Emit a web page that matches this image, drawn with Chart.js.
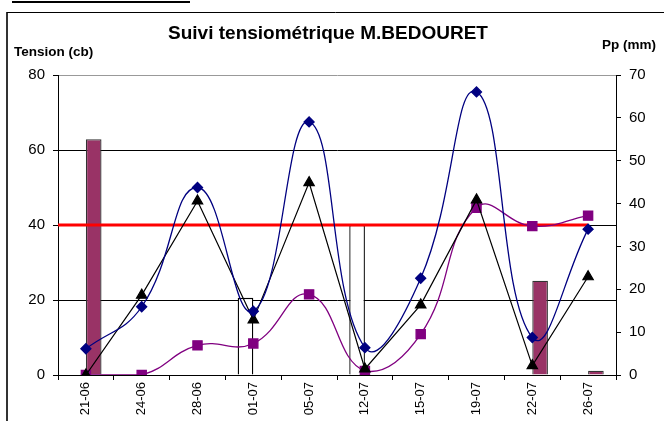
<!DOCTYPE html>
<html>
<head>
<meta charset="utf-8">
<script src="https://cdn.jsdelivr.net/npm/chart.js@4"></script>
<style>
  body { margin: 0; background: #fff; }
  canvas { display: block; }
</style>
</head>
<body>
<canvas id="chart" width="664" height="421"></canvas>
<script>
// dates des relevés
const categories = ["21-06", "24-06", "28-06", "01-07", "05-07", "12-07", "15-07", "19-07", "22-07", "26-07"];
// tensions (cb), axe gauche
const tensionBleu = [7, 18.2, 50, 17, 67.5, 7.3, 25.8, 75.5, 10, 38.9];
const tensionNoir = [0, 21.3, 46.4, 14.7, 51.3, 1.6, 18.7, 46.7, 2.5, 26.2];
const tensionViolet = [0, 0, 7.9, 8.4, 21.5, 1.1, 10.9, 44.6, 39.7, 42.5];
// apports (mm), axe droit
const irrigation = [0, 0, 0, 18, 0, 35, 0, 0, 0, 0];
const pluie = [55, 0, 0, 0, 0, 0, 0, 0, 22, 1];
// seuil de déclenchement (cb)
const seuil = 40;

const FONT = "'Liberation Sans', Arial, sans-serif";

const decor = {
  id: "decor",
  beforeDraw(chart) {
    const ctx = chart.ctx;
    ctx.save();
    ctx.fillStyle = "#fff";
    ctx.fillRect(0, 0, chart.width, chart.height);
    // cadre
    ctx.strokeStyle = "#000";
    ctx.lineWidth = 2;
    ctx.beginPath();
    ctx.moveTo(12, 2);
    ctx.lineTo(190, 2);
    ctx.stroke();
    ctx.strokeStyle = "#333";
    ctx.beginPath();
    ctx.moveTo(7, 12);
    ctx.lineTo(7, chart.height);
    ctx.stroke();
    ctx.lineWidth = 1;
    ctx.strokeStyle = "#000";
    ctx.beginPath();
    ctx.moveTo(7, 12.5);
    ctx.lineTo(chart.width, 12.5);
    ctx.stroke();
    // textes
    ctx.fillStyle = "#000";
    ctx.textBaseline = "middle";
    ctx.textAlign = "center";
    ctx.font = "bold 19px " + FONT;
    ctx.fillText("Suivi tensiométrique M.BEDOURET", 328, 34);
    ctx.font = "bold 13.5px " + FONT;
    ctx.textAlign = "left";
    ctx.fillText("Tension (cb)", 14, 52);
    ctx.fillText("Pp (mm)", 602, 45);
    ctx.restore();
  },
  afterDatasetDraw(chart, args) {
    if (args.index !== 3) return;
    const ctx = chart.ctx;
    const x = chart.scales.x;
    const y = chart.scales.y;
    const py = y.getPixelForValue(seuil);
    ctx.save();
    ctx.strokeStyle = "#ff0000";
    ctx.lineWidth = 3;
    ctx.beginPath();
    ctx.moveTo(chart.chartArea.left, py);
    ctx.lineTo(x.getPixelForValue(categories.length - 1), py);
    ctx.stroke();
    ctx.restore();
  }
};

new Chart(document.getElementById("chart"), {
  type: "bar",
  data: {
    labels: categories,
    datasets: [
      {
        type: "line",
        label: "Tension 1",
        data: tensionBleu,
        yAxisID: "y",
        borderColor: "#000080",
        backgroundColor: "#000080",
        borderWidth: 1.3,
        tension: 0.45,
        pointStyle: "rectRot",
        pointRadius: 5,
        pointBorderColor: "#000080",
        pointBackgroundColor: "#000080"
      },
      {
        type: "line",
        label: "Tension 2",
        data: tensionNoir,
        yAxisID: "y",
        borderColor: "#000",
        backgroundColor: "#000",
        borderWidth: 1.2,
        tension: 0,
        pointStyle: "triangle",
        pointRadius: 6,
        pointBorderColor: "#000",
        pointBackgroundColor: "#000"
      },
      {
        type: "line",
        label: "Tension 3",
        data: tensionViolet,
        yAxisID: "y",
        borderColor: "#800080",
        backgroundColor: "#800080",
        borderWidth: 1.3,
        tension: 0.45,
        pointStyle: "rect",
        pointRadius: 6.5,
        pointBorderColor: "#800080",
        pointBackgroundColor: "#800080"
      },
      {
        label: "Irrigation",
        data: irrigation,
        yAxisID: "y1",
        backgroundColor: "#fff",
        borderColor: "#000",
        borderWidth: 1.3,
        categoryPercentage: 0.56,
        barPercentage: 1
      },
      {
        label: "Pluie",
        data: pluie,
        yAxisID: "y1",
        backgroundColor: "#993366",
        borderColor: "#333",
        borderWidth: 1.3,
        categoryPercentage: 0.56,
        barPercentage: 1
      }
    ]
  },
  options: {
    responsive: false,
    animation: false,
    layout: { padding: { top: 75, left: 0, right: 0, bottom: 0 } },
    plugins: {
      legend: { display: false },
      tooltip: { enabled: false }
    },
    scales: {
      x: {
        offset: true,
        grid: {
          offset: true,
          drawOnChartArea: false,
          drawTicks: true,
          tickLength: 5,
          color: "#000"
        },
        border: { color: "#000", width: 1 },
        ticks: {
          minRotation: 90,
          maxRotation: 90,
          padding: 2,
          color: "#000",
          font: { family: FONT, size: 13 }
        },
        afterFit(scale) { scale.height = 46; }
      },
      y: {
        position: "left",
        min: 0,
        max: 80,
        ticks: {
          stepSize: 20,
          padding: 8,
          color: "#000",
          font: { family: FONT, size: 15 }
        },
        grid: {
          color: (c) => (c.tick && c.tick.value === 80 ? "#999" : "#000"),
          tickColor: "#000",
          tickLength: 5,
          lineWidth: 1
        },
        border: { color: "#000", width: 1 },
        afterFit(scale) { scale.width = 58; }
      },
      y1: {
        position: "right",
        min: 0,
        max: 70,
        ticks: {
          stepSize: 10,
          padding: 8,
          color: "#000",
          font: { family: FONT, size: 15 }
        },
        grid: {
          drawOnChartArea: false,
          tickColor: "#000",
          tickLength: 5
        },
        border: { color: "#000", width: 1 },
        afterFit(scale) { scale.width = 48; }
      }
    }
  },
  plugins: [decor]
});
</script>
</body>
</html>
